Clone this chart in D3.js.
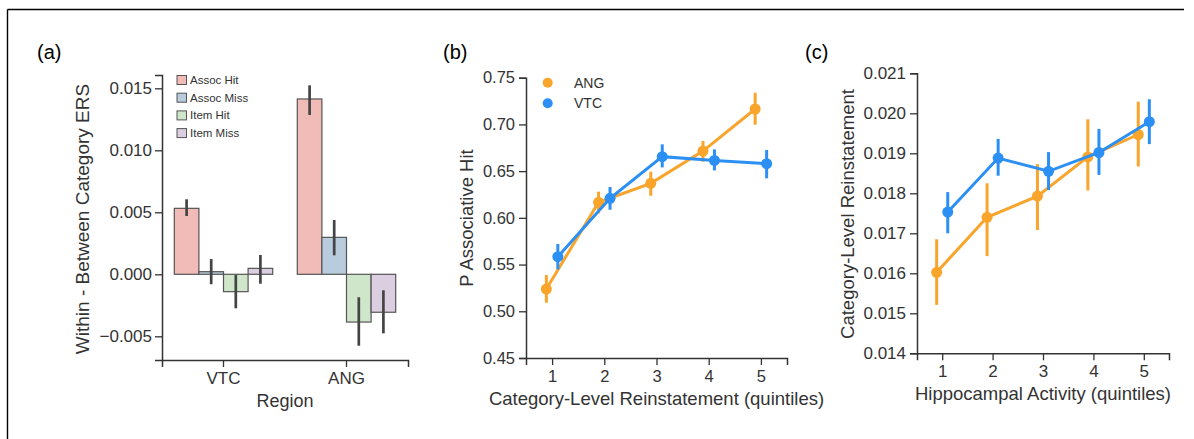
<!DOCTYPE html>
<html><head><meta charset="utf-8">
<script src="https://cdn.jsdelivr.net/npm/d3@7"></script>
<style>body{margin:0;background:#fff}svg{display:block;font-family:"Liberation Sans",Arial,sans-serif}</style>
</head><body>
<svg id="c" width="1194" height="439"></svg>
<script>
// ---- Panel (a) data ----
const regions = ["VTC", "ANG"];
const conditions = ["Assoc Hit", "Assoc Miss", "Item Hit", "Item Miss"];
const ersVTC = [0.00532, 0.00021, -0.0014, 0.00048];
const ersVTCLo = [0.0047, -0.0008, -0.00274, -0.00076];
const ersVTCHi = [0.00605, 0.00123, -0.00006, 0.00156];
const ersANG = [0.01414, 0.00298, -0.00385, -0.00306];
const ersANGLo = [0.01285, 0.00153, -0.00576, -0.00476];
const ersANGHi = [0.01524, 0.00438, -0.00185, -0.00129];
const ersTicks = [-0.005, 0.000, 0.005, 0.010, 0.015];

// ---- Panel (b) data ----
const quintiles = [1, 2, 3, 4, 5];
const hues = ["ANG", "VTC"];
const pHitANG = [0.5238, 0.6166, 0.6369, 0.6715, 0.7165];
const pHitANGLo = [0.5092, 0.6048, 0.6237, 0.6601, 0.6997];
const pHitANGHi = [0.5388, 0.628, 0.6494, 0.6822, 0.7339];
const pHitVTC = [0.5584, 0.6209, 0.6655, 0.6615, 0.658];
const pHitVTCLo = [0.5449, 0.6087, 0.654, 0.6508, 0.6423];
const pHitVTCHi = [0.572, 0.633, 0.6787, 0.6733, 0.6726];
const pHitTicks = [0.45, 0.50, 0.55, 0.60, 0.65, 0.70, 0.75];

// ---- Panel (c) data ----
const reinANG = [0.016025, 0.0174, 0.01793, 0.01891, 0.01947];
const reinANGLo = [0.01521, 0.01643, 0.01708, 0.01807, 0.01867];
const reinANGHi = [0.01685, 0.01825, 0.01873, 0.01985, 0.02029];
const reinVTC = [0.01753, 0.01888, 0.01855, 0.01902, 0.01979];
const reinVTCLo = [0.0170, 0.01844, 0.01808, 0.01846, 0.01923];
const reinVTCHi = [0.01803, 0.01936, 0.01903, 0.01961, 0.02035];
const reinTicks = [0.014, 0.015, 0.016, 0.017, 0.018, 0.019, 0.020, 0.021];

const barColors = ["#f1bcb8", "#b9ccdd", "#cfe6ca", "#dccee1"];
const hueColors = {ANG: "#f9a42b", VTC: "#2b8ff4"};
const axisColor = "#333";

const svg = d3.select("#c");

// frame
svg.append("line").attr("x1", 7.5).attr("x2", 1184).attr("y1", 9.5).attr("y2", 9.5).attr("stroke", "#000").attr("stroke-width", 1.4);
svg.append("line").attr("x1", 7.5).attr("x2", 7.5).attr("y1", 9.5).attr("y2", 439).attr("stroke", "#000").attr("stroke-width", 1.4);

function styleAxis(g, fs) {
  g.selectAll(".domain").attr("stroke", axisColor).attr("stroke-width", 1.5);
  g.selectAll(".tick line").attr("stroke", axisColor).attr("stroke-width", 1.3);
  g.selectAll(".tick text").attr("fill", "#333").style("font-size", fs + "px").style("font-family", '"Liberation Sans",Arial,sans-serif');
}
function label(x, y, txt, fs, rot, anchor) {
  const t = svg.append("text").attr("transform", `translate(${x},${y})` + (rot ? " rotate(-90)" : ""))
    .attr("text-anchor", anchor || "middle").attr("fill", "#333").style("font-size", fs + "px").text(txt);
  return t;
}

// ================= Panel (a) =================
{
  const x = d3.scaleBand().domain(regions).range([162, 408]);
  const xi = d3.scaleBand().domain(conditions).range([0, x.bandwidth() * 0.8]);
  const y = d3.scaleLinear().domain([-0.006911, 0.016073]).range([360, 75]);
  const g = svg.append("g");
  const vals = {VTC: [ersVTC, ersVTCLo, ersVTCHi], ANG: [ersANG, ersANGLo, ersANGHi]};
  regions.forEach(r => {
    const x0 = x(r) + x.bandwidth() * 0.1;
    conditions.forEach((c, i) => {
      const v = vals[r][0][i];
      g.append("rect").attr("x", x0 + xi(c)).attr("width", xi.bandwidth())
        .attr("y", Math.min(y(v), y(0))).attr("height", Math.abs(y(v) - y(0)))
        .attr("fill", barColors[i]).attr("stroke", "#555").attr("stroke-width", 1.2);
    });
    conditions.forEach((c, i) => {
      const cx = x0 + xi(c) + xi.bandwidth() / 2;
      g.append("line").attr("x1", cx).attr("x2", cx).attr("y1", y(vals[r][1][i])).attr("y2", y(vals[r][2][i]))
        .attr("stroke", "#444").attr("stroke-width", 2.7);
    });
  });
  const ya = svg.append("g").attr("transform", "translate(162,0)")
    .call(d3.axisLeft(y).tickValues(ersTicks).tickFormat(d => d3.format(".3f")(d).replace("-", "\u2212")).tickSizeOuter(0).tickSize(7).tickPadding(3));
  styleAxis(ya, 17);
  const xa = svg.append("g").attr("transform", "translate(0,360)")
    .call(d3.axisBottom(x).tickSizeOuter(0).tickSize(7).tickPadding(5));
  styleAxis(xa, 17);
  // legend
  conditions.forEach((c, i) => {
    const cy = 80 + i * 17.7;
    svg.append("rect").attr("x", 177).attr("y", cy - 4.5).attr("width", 9.5).attr("height", 9)
      .attr("fill", barColors[i]).attr("stroke", "#555").attr("stroke-width", 1);
    svg.append("text").attr("x", 190).attr("y", cy + 4).attr("fill", "#333").style("font-size", "11.5px").text(c);
  });
  label(82, 219, "Within - Between Category ERS", 19, true).attr("dy", "0.35em");
  label(285, 407, "Region", 18);
  svg.append("text").attr("x", 37).attr("y", 59).style("font-size", "20px").attr("fill", "#000").text("(a)");
}

// ============ point plot helper ============
function pointPanel(opts) {
  const x = d3.scaleLinear().domain([-0.5, 4.5]).range(opts.xr);
  const y = d3.scaleLinear().domain(opts.yd).range(opts.yr);
  const g = svg.append("g");
  const dodge = {ANG: -0.11, VTC: 0.11};
  hues.forEach(h => {
    const [m, lo, hi] = opts.data[h];
    const pts = quintiles.map((q, i) => [x(i + dodge[h]), y(m[i])]);
    g.append("path").attr("d", d3.line()(pts)).attr("fill", "none").attr("stroke", hueColors[h]).attr("stroke-width", 3);
    quintiles.forEach((q, i) => {
      const cx = x(i + dodge[h]);
      g.append("line").attr("x1", cx).attr("x2", cx).attr("y1", y(lo[i])).attr("y2", y(hi[i]))
        .attr("stroke", hueColors[h]).attr("stroke-width", 3);
      g.append("circle").attr("cx", cx).attr("cy", y(m[i])).attr("r", 5.5).attr("fill", hueColors[h]);
    });
  });
  const ya = svg.append("g").attr("transform", `translate(${opts.xr[0]},0)`)
    .call(d3.axisLeft(y).tickValues(opts.ticks).tickFormat(d3.format(opts.fmt)).tickSizeOuter(0).tickSize(7).tickPadding(4));
  styleAxis(ya, opts.fs);
  const xa = svg.append("g").attr("transform", `translate(0,${opts.yr[0]})`)
    .call(d3.axisBottom(x).tickValues([0, 1, 2, 3, 4]).tickFormat((d, i) => quintiles[i]).tickSizeOuter(0).tickSize(7).tickPadding(5));
  styleAxis(xa, opts.fs);
  return {x, y};
}

// ================= Panel (b) =================
pointPanel({
  xr: [526, 787], yd: [0.45, 0.75], yr: [358, 77.7], ticks: pHitTicks, fmt: ".2f", fs: 16.5,
  data: {ANG: [pHitANG, pHitANGLo, pHitANGHi], VTC: [pHitVTC, pHitVTCLo, pHitVTCHi]}
});
hues.forEach((h, i) => {
  const cy = 82.7 + i * 20.6;
  svg.append("circle").attr("cx", 547.7).attr("cy", cy).attr("r", 5).attr("fill", hueColors[h]);
  svg.append("text").attr("x", 574).attr("y", cy + 5).attr("fill", "#333").style("font-size", "14px").text(h);
});
label(466.7, 218, "P Associative Hit", 18.5, true).attr("dy", "0.35em");
label(656.5, 404.5, "Category-Level Reinstatement (quintiles)", 18.5);
svg.append("text").attr("x", 443).attr("y", 59).style("font-size", "20px").attr("fill", "#000").text("(b)");

// ================= Panel (c) =================
pointPanel({
  xr: [917, 1169], yd: [0.014, 0.021], yr: [353.3, 73.3], ticks: reinTicks, fmt: ".3f", fs: 17,
  data: {ANG: [reinANG, reinANGLo, reinANGHi], VTC: [reinVTC, reinVTCLo, reinVTCHi]}
});
label(848, 214, "Category-Level Reinstatement", 18.5, true).attr("dy", "0.35em");
label(1043, 399.5, "Hippocampal Activity (quintiles)", 18.5);
svg.append("text").attr("x", 805).attr("y", 59).style("font-size", "20px").attr("fill", "#000").text("(c)");
</script>
</body></html>
